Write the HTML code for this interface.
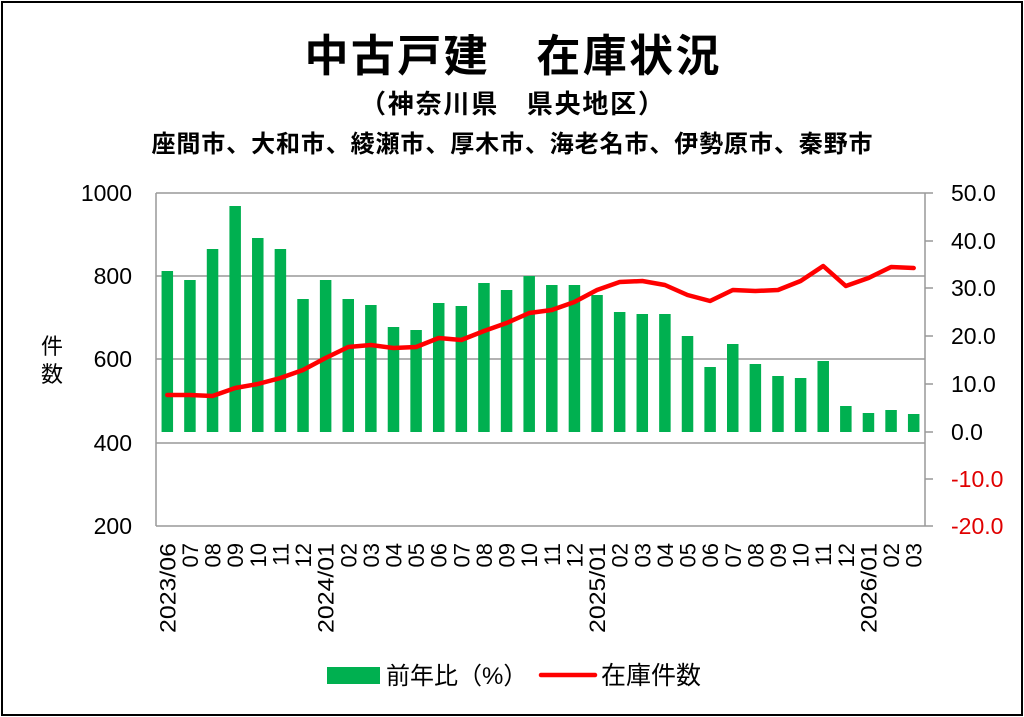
<!DOCTYPE html>
<html><head><meta charset="utf-8"><style>
body{margin:0;background:#fff}
svg{display:block;font-family:"Liberation Sans","Noto Sans CJK JP",sans-serif}
</style></head><body>
<svg width="1024" height="717" viewBox="0 0 1024 717" xmlns="http://www.w3.org/2000/svg">
<rect x="2" y="2" width="1020" height="713" fill="#fff" stroke="#000" stroke-width="2"/>
<text x="512" y="71" text-anchor="middle" font-size="44" font-weight="bold" textLength="415" lengthAdjust="spacing">中古戸建　在庫状況</text>
<text x="512" y="113" text-anchor="middle" font-size="26" font-weight="bold" textLength="304" lengthAdjust="spacing">（神奈川県　県央地区）</text>
<text x="512" y="152" text-anchor="middle" font-size="24" font-weight="bold" textLength="721" lengthAdjust="spacing">座間市、大和市、綾瀬市、厚木市、海老名市、伊勢原市、秦野市</text>
<g stroke="#999" stroke-width="1.5" fill="none">
<line x1="156" y1="193" x2="925" y2="193"/>
<line x1="156" y1="276" x2="925" y2="276"/>
<line x1="156" y1="359" x2="925" y2="359"/>
<line x1="156" y1="443" x2="925" y2="443"/>
<line x1="156" y1="526" x2="925" y2="526"/>
<line x1="156" y1="193" x2="156" y2="526"/>
<line x1="925" y1="193" x2="925" y2="526"/>
<line x1="925" y1="193" x2="933" y2="193"/><line x1="925" y1="241" x2="933" y2="241"/><line x1="925" y1="288" x2="933" y2="288"/><line x1="925" y1="336" x2="933" y2="336"/><line x1="925" y1="384" x2="933" y2="384"/><line x1="925" y1="432" x2="933" y2="432"/><line x1="925" y1="479" x2="933" y2="479"/><line x1="925" y1="526" x2="933" y2="526"/>
</g>
<g font-size="23" text-anchor="end">
<text x="132" y="201">1000</text><text x="132" y="284">800</text><text x="132" y="367">600</text><text x="132" y="451">400</text><text x="132" y="534">200</text>
</g>
<g font-size="23" text-anchor="start">
<text x="951" y="201">50.0</text><text x="951" y="249">40.0</text><text x="951" y="296">30.0</text><text x="951" y="344">20.0</text><text x="951" y="392">10.0</text><text x="951" y="440">0.0</text>
<text x="951" y="487" fill="#e00000">-10.0</text><text x="951" y="534" fill="#e00000">-20.0</text>
</g>
<text x="52" y="354" font-size="22" text-anchor="middle">件</text>
<text x="52" y="382" font-size="22" text-anchor="middle">数</text>
<g fill="#00b050" id="bars"></g>
<polyline id="line" fill="none" stroke="#ff0000" stroke-width="4.5" stroke-linejoin="round" stroke-linecap="round"/>
<g id="xl" font-size="22" text-anchor="end"></g>
<rect x="327" y="667" width="53" height="17" fill="#00b050"/>
<text x="386" y="684" font-size="24">前年比（%）</text>
<line x1="541" y1="675" x2="595" y2="675" stroke="#ff0000" stroke-width="4.5" stroke-linecap="round"/>
<text x="601" y="684" font-size="25">在庫件数</text>
<script>
var tops=[271,280,249,206,238,249,299,280,299,305,327,330,303,306,283,290,276,285,285,295,312,314,314,336,367,344,364,376,378,361,406,413,410,414];
var ly=[395,395,396,388,384,378,370,358,347,345,348,347,338,340,331,323,313,310,302,290,282,281,285,295,301,290,291,290,281,266,286,278,267,268];
var labs=["2023/06","07","08","09","10","11","12","2024/01","02","03","04","05","06","07","08","09","10","11","12","2025/01","02","03","04","05","06","07","08","09","10","11","12","2026/01","02","03"];
var ns="http://www.w3.org/2000/svg",b=document.getElementById("bars"),xl=document.getElementById("xl"),pts=[];
var w=769/34;
for(var i=0;i<34;i++){var c=156+w*(i+0.5);
var r=document.createElementNS(ns,"rect");r.setAttribute("x",c-5.75);r.setAttribute("y",tops[i]);r.setAttribute("width",11.5);r.setAttribute("height",432-tops[i]);b.appendChild(r);
pts.push(c.toFixed(1)+","+ly[i]);
var t=document.createElementNS(ns,"text");t.setAttribute("transform","translate("+(c+8)+",543) rotate(-90)");t.textContent=labs[i];
if(labs[i].length>3){t.setAttribute("textLength","90");t.setAttribute("lengthAdjust","spacingAndGlyphs");}
xl.appendChild(t);}
document.getElementById("line").setAttribute("points",pts.join(" "));
</script>
</svg>
</body></html>
